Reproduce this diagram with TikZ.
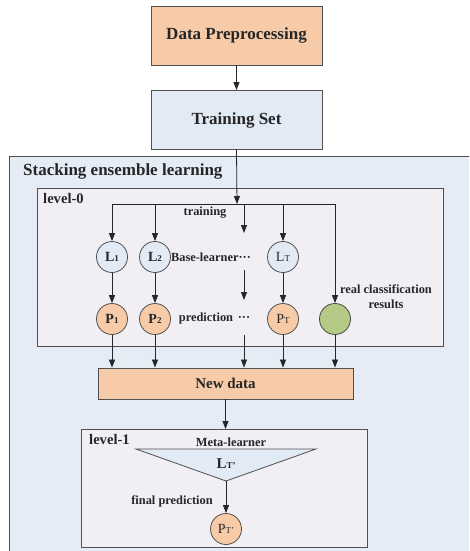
\documentclass[tikz,border=0pt]{standalone}
\usepackage{fontspec}
\setmainfont{Liberation Serif}
\usetikzlibrary{arrows.meta}

\definecolor{peach}{HTML}{F8CBA8}
\definecolor{paleblue}{HTML}{E2EAF5}
\definecolor{outerfill}{HTML}{E5ECF6}
\definecolor{levelfill}{HTML}{F1EFF4}
\definecolor{leaf}{HTML}{B5CA87}
\definecolor{edge}{HTML}{505050}
\definecolor{ink}{HTML}{262626}

\newcommand\bigfont{\fontsize{17}{20}\selectfont\bfseries}
\newcommand\midfont{\fontsize{14.6}{17}\selectfont\bfseries}
\newcommand\smallfont{\fontsize{12.4}{15}\selectfont\bfseries}
% letter with a small subscript sitting on the baseline
\newcommand\subl[2]{#1{\fontsize{9}{9}\selectfont #2}}

\tikzset{
  x=1pt, y=-1pt,
  stagebox/.style={draw=edge, line width=0.9pt, rectangle, inner sep=0pt,
                   font=\bigfont, text=ink},
  frame/.style={draw=edge, line width=1pt, rectangle, inner sep=0pt, anchor=north west},
  learner/.style={circle, draw=edge, line width=0.8pt, minimum size=31pt,
                  inner sep=0pt, font=\fontsize{14}{14}\selectfont, text=ink},
  boldlearner/.style={learner, font=\fontsize{14}{14}\selectfont\bfseries},
  lbl/.style={font=\smallfont, text=ink, inner sep=0pt},
  arr/.style={draw=ink, line width=0.8pt, -{Triangle[length=8pt,width=6pt]}},
  link/.style={draw=ink, line width=0.8pt},
}

\begin{document}
\begin{tikzpicture}
\useasboundingbox (0,0) rectangle (469,551);
\clip (0,0) rectangle (469,551);

% containers
\node[frame, fill=outerfill, minimum width=480pt, minimum height=420pt] (outer) at (9,156) {};
\node[frame, fill=levelfill, minimum width=406pt, minimum height=158pt] (lvl0) at (37,188) {};
\node[frame, fill=levelfill, minimum width=286pt, minimum height=118pt] (lvl1) at (81,429) {};

\node[anchor=west, font=\bigfont, text=ink, inner sep=0pt] (title) at (23,171) {Stacking ensemble learning};
\node[anchor=west, font=\midfont, text=ink, inner sep=0pt] (lvl0lbl) at (43,199) {level-0};
\node[anchor=west, font=\midfont, text=ink, inner sep=0pt] (lvl1lbl) at (89,440) {level-1};

% pipeline boxes
\node[stagebox, fill=peach, minimum width=171pt, minimum height=59pt] (prep) at (236.5,35.5) {Data Preprocessing};
\node[stagebox, fill=paleblue, minimum width=171pt, minimum height=59pt] (train) at (236.5,120) {Training Set};
\node[stagebox, fill=peach, minimum width=255pt, minimum height=31pt, font=\fontsize{15}{18}\selectfont\bfseries] (newdata) at (225.5,383.5) {New data};

% base learners
\node[boldlearner, fill=paleblue] (l1) at (112,257) {\subl{L}{1}};
\node[boldlearner, fill=paleblue] (l2) at (155,257) {\subl{L}{2}};
\node[learner, fill=paleblue] (lt) at (283,257) {\subl{L}{T}};

% predictions
\node[boldlearner, fill=peach] (p1) at (112,319) {\subl{P}{1}};
\node[boldlearner, fill=peach] (p2) at (155,319) {\subl{P}{2}};
\node[learner, fill=peach] (pt) at (283,319) {\subl{P}{T}};
\node[learner, fill=leaf, draw=edge!90!black] (real) at (335,319) {};

% labels inside level-0
\node[lbl] (trainlbl) at (205,213) {training};
\node[lbl] (baselbl) at (211,257) {Base-learner···};
\node[lbl] (predlbl) at (206,319) {prediction};
\node[lbl] (preddots) at (244,319) {···};
\node[lbl, align=center] (reallbl) at (386,296.5) {real classification\\results};

% meta learner
\coordinate (mtl) at (136,449);
\coordinate (mtr) at (316,449);
\coordinate (mtb) at (226,481);
\draw[draw=edge, line width=0.8pt, fill=paleblue] (mtl) -- (mtr) -- (mtb) -- cycle;
\node[lbl] (metalbl) at (231,442) {Meta-learner};
\node[inner sep=0pt, text=ink, font=\fontsize{15}{15}\selectfont\bfseries] (ltp) at (226,464) {\subl{L}{T'}};
\node[learner, fill=peach] (ptp) at (226,529) {\subl{P}{T'}};
\node[lbl] (finallbl) at (172,501) {final prediction};

% pipeline connectors
\draw[arr] (prep.south) -- (train.north);
\coordinate (split) at (237,204);
\draw[arr] (train.south) -- (split);

% distribution bus
\coordinate (j1) at (112,204);
\coordinate (j2) at (155,204);
\coordinate (jd) at (244,204);
\coordinate (jt) at (283,204);
\coordinate (jr) at (335,204);
\draw[link] (j1) -- (jr);
\draw[arr] (j1) -- (l1.north);
\draw[arr] (j2) -- (l2.north);
\draw[arr] (jt) -- (lt.north);
\draw[arr] (jr) -- (real.north);
\coordinate (d1) at (244,233);
\draw[arr] (jd) -- (d1);

% learners to predictions
\draw[arr] (l1.south) -- (p1.north);
\draw[arr] (l2.south) -- (p2.north);
\draw[arr] (lt.south) -- (pt.north);
\coordinate (d2a) at (244,270);
\coordinate (d2b) at (244,300);
\draw[arr] (d2a) -- (d2b);

% predictions to new data
\draw[arr] (p1.south) -- (p1.south |- newdata.north);
\draw[arr] (p2.south) -- (p2.south |- newdata.north);
\draw[arr] (pt.south) -- (pt.south |- newdata.north);
\draw[arr] (real.south) -- (real.south |- newdata.north);
\coordinate (d3) at (244,335);
\draw[arr] (d3) -- (d3 |- newdata.north);

% into level-1
\draw[arr] (newdata.south) -- (newdata.south |- lvl1.north);
\draw[arr] (mtb) -- (ptp.north);
\end{tikzpicture}
\end{document}
